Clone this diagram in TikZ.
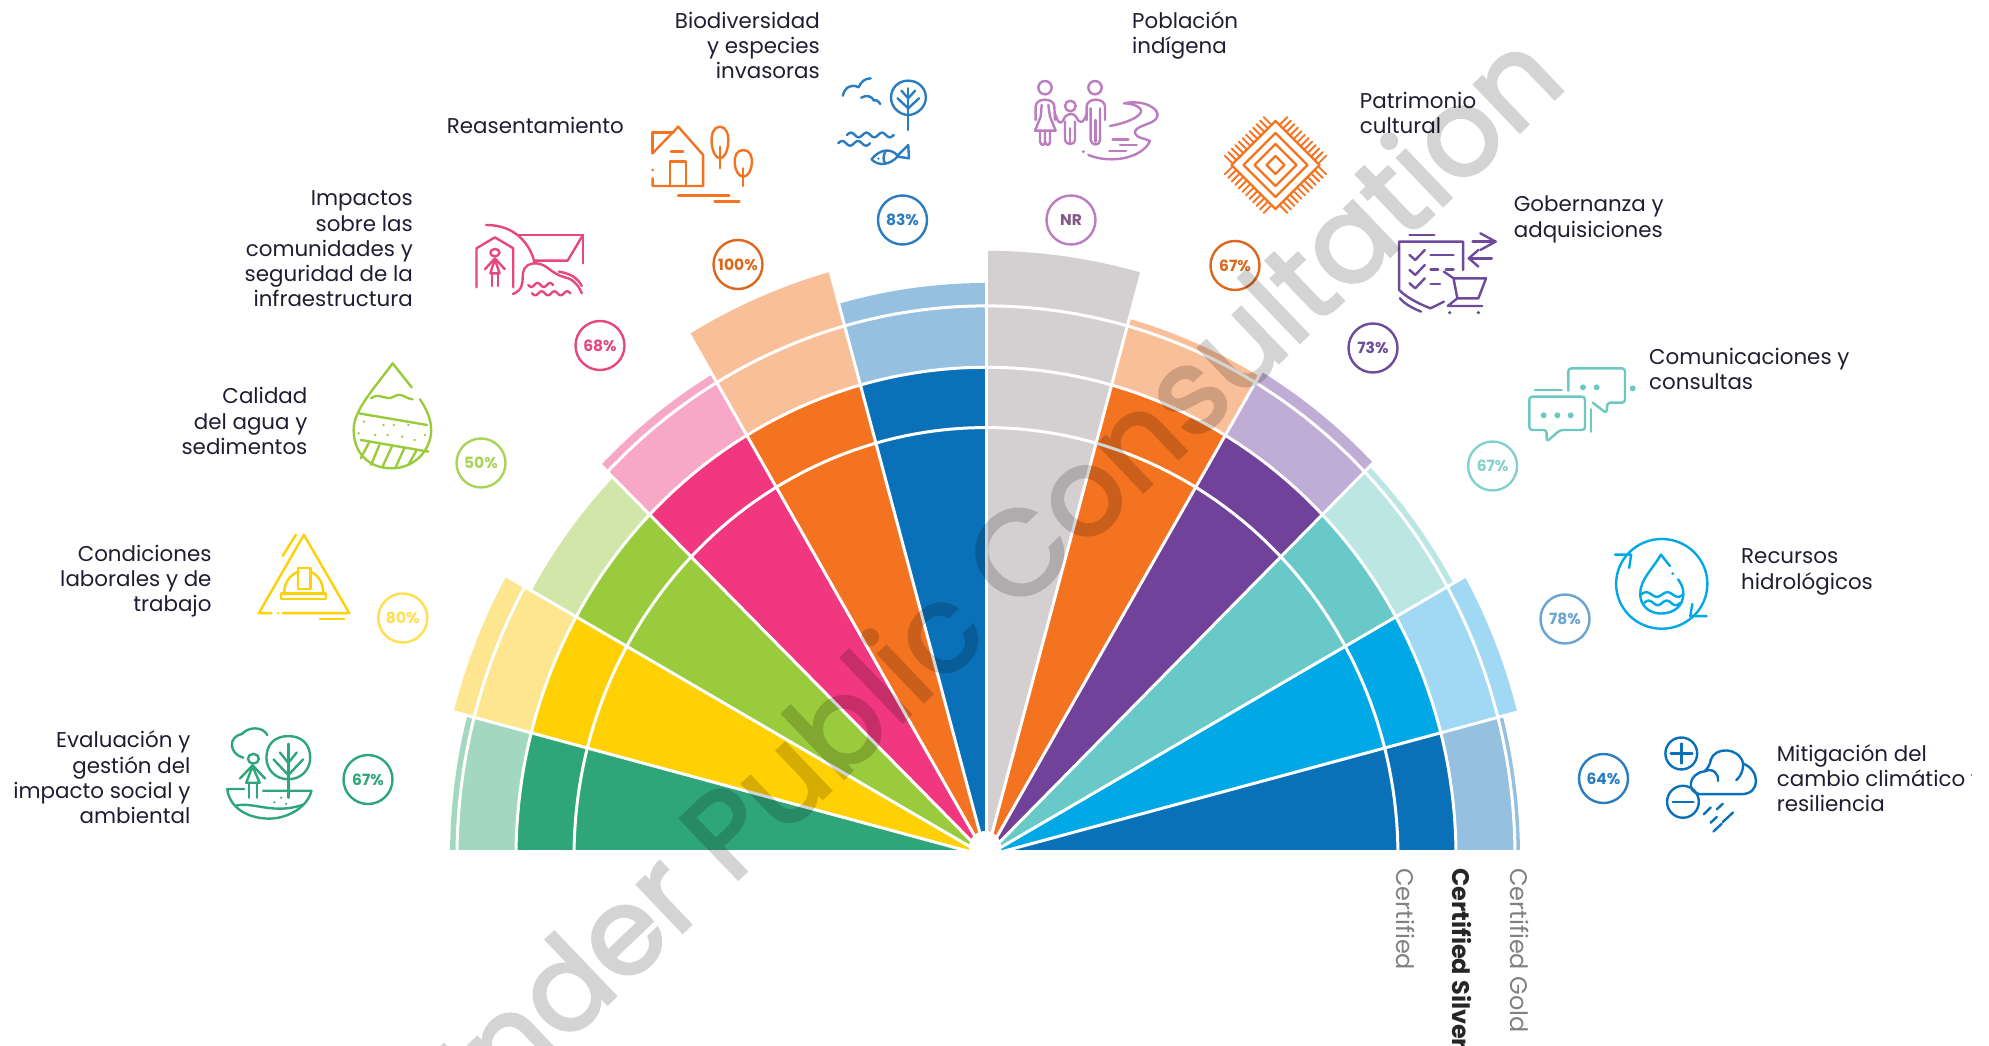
\documentclass[tikz,border=0pt]{standalone}
\usepackage{fontspec}
\setmainfont{Poppins}
\newfontfamily\wmfont[FakeBold=2.5]{Poppins}
\usetikzlibrary{calc}
\definecolor{ink}{HTML}{1E1E32}
\definecolor{cGreen}{HTML}{2FA67A}\definecolor{lGreen}{HTML}{A3D8C0}
\definecolor{cYellow}{HTML}{FFD003}\definecolor{lYellow}{HTML}{FDE68F}
\definecolor{cLime}{HTML}{9ACB3C}\definecolor{lLime}{HTML}{D3E6AA}
\definecolor{cPink}{HTML}{F0377F}\definecolor{lPink}{HTML}{F7A8C6}
\definecolor{cOrange}{HTML}{F47321}\definecolor{lOrange}{HTML}{F9BF98}
\definecolor{cBlue}{HTML}{0A70B8}\definecolor{lBlue}{HTML}{95C0E0}
\definecolor{lGray}{HTML}{D4CFD1}
\definecolor{cPurple}{HTML}{71429A}\definecolor{lPurple}{HTML}{C0ADD5}
\definecolor{cTeal}{HTML}{69C9C9}\definecolor{lTeal}{HTML}{BCE6E4}
\definecolor{cCyan}{HTML}{00A8E6}\definecolor{lCyan}{HTML}{A1D8F3}
\definecolor{iNR}{HTML}{BC7CC0}\definecolor{iGov}{HTML}{6C4A9C}
\definecolor{iTeal}{HTML}{6CC9C2}\definecolor{iBio}{HTML}{2C7CC0}
\definecolor{iPink}{HTML}{E4487F}
\newcommand\Sector[5]{\fill[#1] plot[domain=#2:#3,samples=40,variable=\t] ({986+#5*cos(\t)},{856-1.04*#5*sin(\t)}) -- plot[domain=#3:#2,samples=40,variable=\t] ({986+#4*cos(\t)},{856-1.04*#4*sin(\t)}) -- cycle;}
\newcommand\Wav[5]{plot[domain=0:#4*360,samples=60,variable=\t] ({#1+#3*(\t/360/#4)},{#2+#5*sin(\t)})}
\tikzset{
 lbl/.style={font=\fontsize{21.4}{25.3}\selectfont,text=ink,inner sep=0pt},
 lblr/.style={lbl,align=right,anchor=east},
 lbll/.style={lbl,align=left,anchor=west},
 pct/.style={circle,draw=#1,text=#1,line width=2.4pt,minimum size=49pt,inner sep=0pt,font=\fontsize{15.5}{15.5}\selectfont\bfseries},
 cert/.style={font=\fontsize{24}{24}\selectfont,text=gray,rotate=-90,anchor=west,inner sep=0pt},
 icon/.style={draw=#1,line width=2.4pt,line cap=round,line join=round},
 cropA/.style={shift={(0,500)},x=0.4209pt,y=-0.3482pt},
 cropB/.style={shift={(400,0)},x=0.3827pt,y=-0.3333pt},
 cropC/.style={shift={(1000,0)},x=0.3827pt,y=-0.3333pt},
 cropD/.style={shift={(1350,450)},x=0.4075pt,y=-0.3803pt},
 cropE/.style={shift={(0,150)},x=0.4146pt,y=-0.3333pt},
 cropF/.style={shift={(1510,350)},x=0.3333pt,y=-0.3333pt},
 cropG/.style={shift={(1020,70)},x=0.3333pt,y=-0.3333pt},
}
\begin{document}
\begin{tikzpicture}[x=1pt,y=-1pt]
\useasboundingbox (0,0) rectangle (1989,1046);
\clip (0,0) rectangle (1989,1046);
% ---------- fan ----------
\begin{scope}
\clip (0,0) rectangle (1989,849.5);
\Sector{lGreen}{165.4}{180}{470}{536}\Sector{cGreen}{165.4}{180}{5}{470}
\Sector{lYellow}{150.7}{165.4}{470}{550}\Sector{cYellow}{150.7}{165.4}{5}{470}
\Sector{lLime}{135.7}{150.7}{470}{521}\Sector{cLime}{135.7}{150.7}{5}{470}
\Sector{lPink}{120.6}{135.7}{470}{538}\Sector{cPink}{120.6}{135.7}{5}{470}
\Sector{lOrange}{105.5}{120.6}{470}{583}\Sector{cOrange}{105.5}{120.6}{5}{470}
\Sector{lBlue}{90}{105.5}{470}{551}\Sector{cBlue}{90}{105.5}{5}{470}
\Sector{lGray}{74.5}{90}{5}{582}
\Sector{lOrange}{59.4}{74.5}{470}{536}\Sector{cOrange}{59.4}{74.5}{5}{470}
\Sector{lPurple}{44.3}{59.4}{470}{541}\Sector{cPurple}{44.3}{59.4}{5}{470}
\Sector{lTeal}{29.3}{44.3}{470}{536}\Sector{cTeal}{29.3}{44.3}{5}{470}
\Sector{lCyan}{14.6}{29.3}{470}{549}\Sector{cCyan}{14.6}{29.3}{5}{470}
\Sector{lBlue}{0}{14.6}{470}{534}\Sector{cBlue}{0}{14.6}{5}{470}
\foreach \r in {412,470,529}{
 \draw[white,line width=3pt] plot[domain=0:180,samples=120,variable=\t] ({986+\r*cos(\t)},{856-1.04*\r*sin(\t)});}
\foreach \a in {14.6,29.3,44.3,59.4,74.5,90,105.5,120.6,135.7,150.7,165.4}{
 \draw[white,line width=3pt] (986,856) -- ({986+600*cos(\a)},{856-1.04*600*sin(\a)});}
\end{scope}
\fill[white] (985,847) circle[radius=16];
% ---------- labels ----------
\node[lblr] (lb1) at (190.6,777.5) {Evaluación y\\gestión del\\impacto social y\\ambiental};
\node[lblr] (lb2) at (211.7,581) {Condiciones\\laborales y de\\trabajo};
\node[lblr] (lb3) at (307.6,421) {Calidad\\del agua y\\sedimentos};
\node[lblr] (lb4) at (413,249) {Impactos\\sobre las\\comunidades y\\seguridad de la\\infraestructura};
\node[lblr] (lb5) at (624,125) {Reasentamiento};
\node[lblr] (lb6) at (820,45.5) {Biodiversidad\\y especies\\invasoras};
\node[lbll] (lb7) at (1132,35.5) {Población\\indígena};
\node[lbll] (lb8) at (1359.7,113) {Patrimonio\\cultural};
\node[lbll] (lb9) at (1513.6,219.5) {Gobernanza y\\adquisiciones};
\node[lbll] (lb10) at (1649,369) {Comunicaciones y\\consultas};
\node[lbll] (lb11) at (1741,572) {Recursos\\hidrológicos};
\begin{scope}
\clip (1700,700) rectangle (1971,850);
\node[lbll] (lb12) at (1776.6,778) {Mitigación del\\cambio climático y\\resiliencia};
\end{scope}
\node[cert] (ce1) at (1405.5,868) {Certified};
\node[cert,text=black!85,font=\fontsize{24}{24}\selectfont\bfseries] (ce2) at (1461.5,868) {Certified Silver};
\node[cert] (ce3) at (1519.5,868) {Certified Gold};
% ---------- percentages ----------
\node[pct=cGreen] (p1) at (368,779.5) {67\%};
\node[pct=cYellow!70!white] (p2) at (402.8,618) {80\%};
\node[pct=cLime!85!white] (p3) at (481,463) {50\%};
\node[pct=iPink] (p4) at (600,345.5) {68\%};
\node[pct=cOrange!90!black] (p5) at (738,264.5) {100\%};
\node[pct=iBio] (p6) at (902.5,220) {83\%};
\node[pct=iNR] (p7) at (1071,220) {\textcolor{iNR!70!black}{NR}};
\node[pct=cOrange!90!black] (p8) at (1235,265.5) {67\%};
\node[pct=iGov] (p9) at (1373,348) {73\%};
\node[pct=iTeal!85!white] (p10) at (1492.6,466) {67\%};
\node[pct=iBio!70!white] (p11) at (1565,619) {78\%};
\node[pct=iBio] (p12) at (1603.5,778.5) {64\%};
% ---------- icon: assessment ----------
\begin{scope}[cropA,icon=cGreen]
\draw (578,740) .. controls (545,730) and (540,680) .. (575,672) .. controls (590,650) and (625,650) .. (635,675);
\draw (685,678) .. controls (720,678) and (737,705) .. (737,740) .. controls (737,775) and (715,802) .. (685,802) .. controls (655,802) and (633,775) .. (633,740) .. controls (633,705) and (650,678) .. (685,678);
\draw (685,700) -- (685,855);
\draw (650,745) -- (685,790) -- (720,745); \draw (665,725) -- (685,755) -- (705,725);
\draw (602,743) ellipse [x radius=13,y radius=14];
\draw (570,800) -- (600,762) -- (630,800);
\draw (585,812) -- (600,765) -- (617,812) -- cycle;
\draw (592,812) -- (592,855); \draw (610,812) -- (610,855);
\draw (625,835) -- (740,835) .. controls (730,885) and (680,915) .. (640,915) .. controls (590,915) and (545,885) .. (540,830) -- (580,830);
\draw (560,878) .. controls (600,865) and (650,905) .. (720,875);
\fill[cGreen] (652,868) circle[radius=3]; \fill[cGreen] (680,873) circle[radius=3]; \fill[cGreen] (668,855) circle[radius=3];
\end{scope}
% ---------- icon: working conditions ----------
\begin{scope}[cropA,icon=cYellow]
\draw (672,325) -- (830,325) -- (722,100) -- (615,325) -- (645,325);
\fill[cYellow] (661,325) circle[radius=3.5];
\draw (672,160) -- (703,100);
\draw (760,342) -- (818,342);
\draw (668,285) -- (775,285) -- (775,268) -- (668,268) -- cycle;
\draw (675,268) .. controls (675,235) and (690,215) .. (710,205);
\draw (768,268) .. controls (768,235) and (755,215) .. (737,205);
\draw (708,255) -- (708,195) -- (738,195) -- (738,255) -- cycle;
\end{scope}
% ---------- icon: water quality ----------
\begin{scope}[cropE,icon=cLime]
\draw (993,712) -- (947,640) .. controls (900,720) and (853,780) .. (853,840) .. controls (853,910) and (890,955) .. (945,955) .. controls (1000,955) and (1040,900) .. (1040,840) .. controls (1040,810) and (1030,780) .. (1013,748);
\draw (895,745) .. controls (915,725) and (930,755) .. (950,740) .. controls (970,725) and (975,745) .. (995,748);
\draw (865,790) -- (1030,825);
\draw (870,870) -- (1033,905);
\foreach \p in {(878,815),(925,825),(950,825),(985,825),(905,855),(935,855),(970,860),(1000,870),(1025,855),(865,850)}
 {\fill[cLime] \p circle[radius=3.5];}
\draw (890,878) -- (870,925); \draw (915,885) -- (895,945); \draw (945,890) -- (922,952); \draw (975,895) -- (955,950); \draw (1005,900) -- (985,945);
\end{scope}
% ---------- icon: community ----------
\begin{scope}[cropB,icon=iPink]
\draw (200,862) -- (200,745) -- (248,712) -- (296,745) -- (296,862);
\draw (248,758) ellipse [x radius=12,y radius=11];
\draw (222,808) -- (248,775) -- (274,808);
\draw (236,820) -- (248,778) -- (260,820) -- cycle;
\draw (240,820) -- (240,858); \draw (256,820) -- (256,858);
\draw (225,675) .. controls (300,675) and (340,730) .. (352,790);
\draw (310,705) -- (478,705) -- (478,790);
\draw (478,705) -- (438,782) -- (350,782);
\draw (295,882) .. controls (345,860) and (295,800) .. (350,790) .. controls (390,790) and (385,820) .. (440,835) .. controls (460,845) and (470,865) .. (475,880);
\draw (415,815) .. controls (445,820) and (465,835) .. (475,858);
\draw \Wav{335}{855}{65}{2}{6};
\draw \Wav{345}{880}{100}{3}{6};
\end{scope}
% ---------- icon: resettlement ----------
\begin{scope}[cropB,icon=cOrange]
\draw (660,460) -- (660,397) -- (715,397);
\draw (660,460) -- (727,380) -- (792,465) -- (792,558) -- (660,558) -- (660,535);
\fill[cOrange] (660,510) circle[radius=4];
\draw (705,558) -- (705,485) -- (748,485) -- (748,558);
\draw (708,455) -- (740,455);
\draw (836,380) .. controls (870,380) and (860,475) .. (836,475) .. controls (812,475) and (802,380) .. (836,380);
\draw (836,440) -- (836,505);
\draw (897,450) .. controls (932,450) and (922,530) .. (897,530) .. controls (872,530) and (862,450) .. (897,450);
\draw (897,505) -- (897,558);
\draw (727,586) -- (860,586); \draw (822,604) -- (887,604);
\end{scope}
% ---------- icon: biodiversity ----------
\begin{scope}[cropB,icon=iBio]
\draw (1157,287) .. controls (1162,262) and (1180,250) .. (1198,262) .. controls (1205,245) and (1215,235) .. (1230,235);
\draw (1205,293) .. controls (1220,283) and (1235,290) .. (1238,302) .. controls (1242,298) and (1250,302) .. (1255,312);
\draw (1328,242) .. controls (1355,242) and (1374,265) .. (1374,293) .. controls (1374,322) and (1350,345) .. (1328,345) .. controls (1306,345) and (1283,322) .. (1283,293) .. controls (1283,265) and (1301,242) .. (1328,242);
\draw (1328,265) -- (1328,390);
\draw (1300,295) -- (1328,325) -- (1356,295); \draw (1310,272) -- (1328,295) -- (1346,272);
\draw \Wav{1168}{405}{122}{3}{-7};
\draw \Wav{1145}{430}{83}{2}{-7};
\draw (1232,478) .. controls (1255,445) and (1285,445) .. (1300,467) -- (1328,435) -- (1330,475) -- (1300,470) .. controls (1280,495) and (1250,500) .. (1232,478);
\draw (1268,455) .. controls (1262,470) and (1262,480) .. (1268,490);
\fill[iBio] (1250,476) circle[radius=3.5];
\end{scope}
% ---------- icon: indigenous ----------
\begin{scope}[cropG,icon=iNR]
\draw (75,53) circle[radius=20]; \draw (225,53) circle[radius=20]; \draw (151,108) circle[radius=16];
\draw (47,150) -- (47,110) .. controls (47,82) and (103,82) .. (103,110) -- (105,150);
\draw (65,105) -- (62,140) -- (45,182) -- (107,182) -- (90,140) -- (85,105);
\draw (60,182) -- (60,215) .. controls (62,228) and (75,228) .. (75,215) -- (75,182);
\draw (75,215) .. controls (77,228) and (90,228) .. (90,215) -- (90,182);
\draw (200,150) -- (200,110) .. controls (200,82) and (255,82) .. (255,110) -- (255,150);
\draw (212,115) -- (212,210) .. controls (214,228) and (240,228) .. (240,210) -- (240,115);
\draw (226,150) -- (226,215);
\draw (135,155) -- (135,210) .. controls (137,226) and (165,226) .. (165,210) -- (165,155);
\draw (150,175) -- (150,218);
\draw (107,135) .. controls (115,165) and (125,165) .. (135,140) .. controls (150,128) and (160,130) .. (168,140) .. controls (180,165) and (190,160) .. (200,132);
\draw (270,168) .. controls (340,155) and (375,130) .. (360,115) .. controls (350,105) and (330,100) .. (312,100) .. controls (370,88) and (420,115) .. (412,140) .. controls (405,165) and (340,165) .. (345,190) .. controls (350,205) and (375,205) .. (390,213) .. controls (370,260) and (280,285) .. (205,255);
\draw (278,208) -- (325,208); \draw (300,225) -- (350,225); \draw (268,243) -- (318,243);
\fill[iNR] (190,245) circle[radius=5];
\end{scope}
% ---------- icon: heritage ----------
\begin{scope}[shift={(1275.5,165)},icon=cOrange]
\foreach \h in {44,32,21,9}{\draw (-\h,0) -- (0,-\h) -- (\h,0) -- (0,\h) -- cycle;}
\foreach \sx in {1,-1}\foreach \sy in {1,-1}\foreach \u in {0.03,0.11,...,0.99}{
 \draw[line width=1.9pt] ({\sx*44*(1-\u)},{\sy*44*\u}) -- ({\sx*(44*(1-\u)+8)},{\sy*(44*\u+8)});}
\end{scope}
% ---------- icon: governance ----------
\begin{scope}[cropC,icon=iGov]
\draw (1070,705) -- (1135,705);
\draw (1210,810) -- (1210,725) -- (1043,725) -- (1043,870) .. controls (1060,890) and (1090,910) .. (1125,925) -- (1160,905);
\draw (1045,895) .. controls (1060,915) and (1080,925) .. (1100,935);
\draw (1070,765) -- (1085,780) -- (1110,750); \draw (1125,765) -- (1185,765);
\draw (1070,810) -- (1085,825) -- (1110,795); \draw (1125,808) -- (1145,808); \draw (1165,808) -- (1185,808);
\draw (1070,850) -- (1085,865) -- (1110,835); \draw (1125,852) -- (1150,852);
\draw (1235,725) -- (1295,725); \draw (1255,700) -- (1295,725) -- (1255,750);
\draw (1285,775) -- (1225,775); \draw (1250,750) -- (1225,775) -- (1250,800);
\draw (1160,815) -- (1185,835) -- (1270,835) -- (1250,895) -- (1195,895) -- (1185,835);
\draw (1195,895) -- (1170,918) -- (1260,918);
\fill[iGov] (1175,938) circle[radius=5]; \fill[iGov] (1250,938) circle[radius=5];
\end{scope}
% ---------- icon: communications ----------
\begin{scope}[cropF,icon=iTeal]
\draw[rounded corners=3pt] (175,122) -- (175,55) -- (345,55) -- (345,158) -- (292,158) -- (290,190) -- (248,158);
\foreach \p in {(219,112),(260,112),(368,115)} {\fill[iTeal] \p circle[radius=9];}
\draw (75,120) -- (155,120);
\draw[rounded corners=3pt] (58,140) -- (225,140) -- (225,240) -- (150,240) -- (110,275) -- (110,240) -- (58,240) -- cycle;
\foreach \p in {(101,196),(142,196),(182,196)} {\fill[iTeal] \p circle[radius=9];}
\draw (243,178) -- (243,245);
\end{scope}
% ---------- icon: water resources ----------
\begin{scope}[cropD,icon=cCyan]
\draw (765,352) ellipse [x radius=112,y radius=118];
\draw (650,275) -- (690,275) -- (685,310);
\draw (875,437) -- (835,437) -- (840,405);
\draw (785,305) -- (763,275) .. controls (745,310) and (712,340) .. (712,378) .. controls (712,410) and (735,430) .. (763,430) .. controls (795,430) and (818,410) .. (818,378) .. controls (818,362) and (812,350) .. (805,340);
\fill[cCyan] (792,325) circle[radius=4];
\draw \Wav{714}{380}{104}{2}{-6};
\draw \Wav{722}{402}{88}{2}{-6};
\end{scope}
% ---------- icon: climate ----------
\begin{scope}[cropD,icon=cBlue]
\draw (813,798) ellipse [x radius=39,y radius=42];
\draw (787,798) -- (840,798); \draw (813,772) -- (813,824);
\draw (817,925) ellipse [x radius=39,y radius=42];
\draw (792,925) -- (843,925);
\draw (858,905) .. controls (825,900) and (830,850) .. (870,845) .. controls (885,830) and (885,815) .. (885,815) .. controls (895,780) and (955,780) .. (965,825) .. controls (1005,840) and (1010,905) .. (960,905) -- (858,905);
\draw (870,845) .. controls (890,835) and (905,850) .. (903,870);
\draw (948,868) .. controls (960,858) and (965,840) .. (965,825);
\draw (868,958) -- (885,940); \draw (900,945) -- (915,930);
\draw (885,980) -- (900,965); \draw (915,978) -- (940,953);
\draw (892,1003) -- (912,983);
\end{scope}
% ---------- watermark ----------
\begin{scope}[transparency group,opacity=0.17]
\node[font=\wmfont\fontsize{120}{120}\selectfont,text=black,rotate=43.7,inner sep=0pt] (wm) at (978,587.5) {Under Public Consultation};
\end{scope}
\end{tikzpicture}
\end{document}
